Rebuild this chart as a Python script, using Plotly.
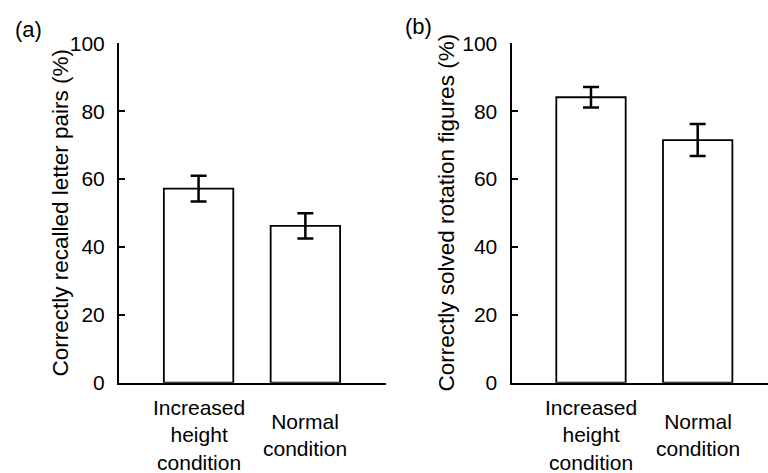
import plotly.graph_objects as go

categories = ["Increased<br>height<br>condition", "Normal<br>condition"]
recall_means = [57.2, 46.2]
recall_err = [3.8, 3.7]
rotation_means = [84.1, 71.5]
rotation_err = [3.0, 4.7]
y_ticks = [0, 20, 40, 60, 80, 100]
y_titles = ["Correctly recalled letter pairs (%)", "Correctly solved rotation figures (%)"]
panel_labels = ["(a)", "(b)"]

W, H = 768, 473
FONT = "Liberation Sans, Arial, sans-serif"
ydom = [(H - 382.7) / H, (H - 43.3) / H]

fig = go.Figure()

def add_bars(vals, errs, xa, ya):
    fig.add_trace(go.Bar(
        x=[0, 1], y=vals, width=0.65,
        marker=dict(color="white", line=dict(color="black", width=1.8)),
        error_y=dict(type="data", array=errs, visible=True, color="black",
                     thickness=2.5, width=8),
        xaxis=xa, yaxis=ya, showlegend=False, hoverinfo="skip"))

add_bars(recall_means, recall_err, "x", "y")
add_bars(rotation_means, rotation_err, "x2", "y2")

xcommon = dict(showline=True, linecolor="black", linewidth=2, showgrid=False,
               zeroline=False, showticklabels=False, ticks="", fixedrange=True,
               automargin=False)
ycommon = dict(range=[0, 100], tickvals=y_ticks, showline=True, linecolor="black",
               linewidth=2, ticks="inside", ticklen=6, tickwidth=2, tickcolor="black",
               showgrid=False, zeroline=False, domain=ydom, fixedrange=True,
               tickfont=dict(family=FONT, size=21, color="black"),
               ticklabelstandoff=8, automargin=False)

fig.update_layout(
    width=W, height=H, margin=dict(l=0, r=0, t=0, b=0, autoexpand=False),
    plot_bgcolor="white", paper_bgcolor="white",
    bargap=0.35,
    xaxis=dict(domain=[119 / W, 386 / W], range=[-0.745, 1.755], anchor="y", **xcommon),
    xaxis2=dict(domain=[511.5 / W, 1.0], range=[-0.745, -0.745 + 256.5 / 106.7], anchor="y2", **xcommon),
    yaxis=dict(anchor="x", **ycommon),
    yaxis2=dict(anchor="x2", **ycommon),
)

# y-axis titles
for xpix, txt in zip([60, 446], y_titles):
    fig.add_annotation(x=xpix / W, y=(H - 212.5) / H, xref="paper", yref="paper",
                       text=txt, textangle=-90, showarrow=False,
                       xanchor="center", yanchor="middle",
                       font=dict(family=FONT, size=22.5, color="black"))

# category labels under bars
for xref in ["x", "x2"]:
    for i, lab in enumerate(categories):
        fig.add_annotation(x=i, y=(H - 435) / H, xref=xref, yref="paper",
                           text=lab, showarrow=False, xanchor="center", yanchor="middle",
                           font=dict(family=FONT, size=21, color="black"))

# panel labels
for (xpix, ypix), txt in zip([(28, 29), (418, 27)], panel_labels):
    fig.add_annotation(x=xpix / W, y=(H - ypix) / H, xref="paper", yref="paper", text=txt,
                       showarrow=False, xanchor="center", yanchor="middle",
                       font=dict(family=FONT, size=22, color="black"))

fig.write_html("out.html", config={"displayModeBar": False, "staticPlot": True},
               post_script="document.body.style.margin='0';document.body.style.overflow='hidden';")
